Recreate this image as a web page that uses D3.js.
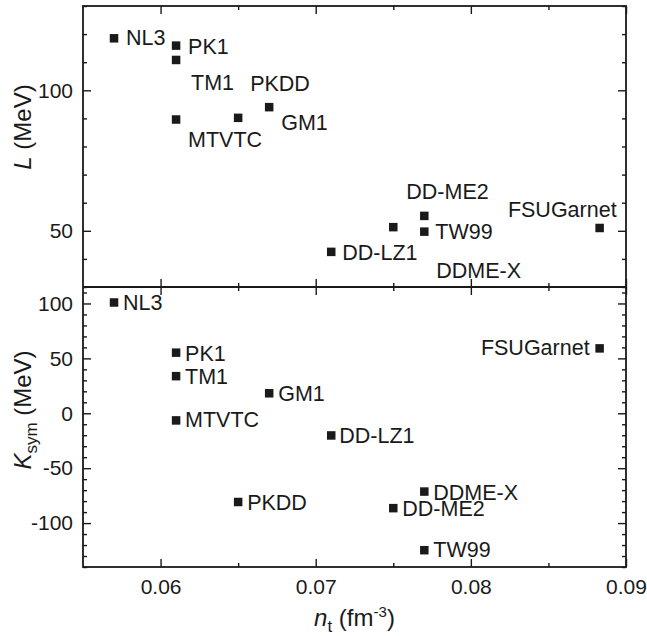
<!DOCTYPE html>
<html>
<head>
<meta charset="utf-8">
<script src="https://cdn.jsdelivr.net/npm/d3@7"></script>
<style>
  html, body { margin: 0; padding: 0; background: #fff; }
  svg { display: block; font-family: "Liberation Sans", Arial, Helvetica, sans-serif; }
</style>
</head>
<body>
<svg id="chart" width="647" height="636"></svg>
<script>
// ---- data ----
const models = ["NL3", "PK1", "TM1", "PKDD", "MTVTC", "GM1", "DD-LZ1", "DD-ME2", "TW99", "DDME-X", "FSUGarnet"];
const nt     = [0.057, 0.061, 0.061, 0.065, 0.061, 0.067, 0.071, 0.075, 0.077, 0.077, 0.0883];
const Lvals  = [118.5, 115.9, 110.8, 90.2, 89.6, 94.0, 42.5, 51.3, 55.3, 49.7, 51.0];
const Ksym   = [100.9, 55.2, 33.8, -80.8, -6.5, 18.2, -20.2, -86.4, -124.7, -71.3, 59.1];

const xMajorTicks = [0.06, 0.07, 0.08, 0.09];
const xMinorTicks = [0.065, 0.075, 0.085];
const xTickLabels = ["0.06", "0.07", "0.08", "0.09"];
const lMajorTicks = [50, 100];
const kMajorTicks = [-100, -50, 0, 50, 100];

// ---- label placement (pixel offsets from marker centre) ----
const labelPosL = {
  "NL3": [12, 7, "start"], "PK1": [12, 8, "start"], "TM1": [15, 30, "start"],
  "PKDD": [12, -27, "start"], "MTVTC": [12, 27, "start"], "GM1": [12, 23, "start"],
  "DD-LZ1": [11, 8, "start"], "DD-ME2": [13, -28, "start"], "TW99": [11, 23, "start"],
  "DDME-X": [12, 46, "start"], "FSUGarnet": [17, -11, "end"]
};
const labelPosK = {
  "NL3": [9, 8, "start"], "PK1": [9, 8, "start"], "TM1": [9, 8, "start"],
  "PKDD": [9, 8, "start"], "MTVTC": [9, 7, "start"], "GM1": [9, 8, "start"],
  "DD-LZ1": [8, 8, "start"], "DD-ME2": [9, 8, "start"], "TW99": [9, 7, "start"],
  "DDME-X": [9, 8, "start"], "FSUGarnet": [-10, 7, "end"]
};

// ---- layout ----
const pLeft = 83, pRight = 626, pTop = 6, pMid = 287, pBottom = 567;
const ink = "#1a1a1a";
const svg = d3.select("#chart");

const x = d3.scaleLinear().domain([0.055, 0.09]).range([pLeft, pRight]);
const yL = d3.scaleLinear().domain([30, 130]).range([pMid, pTop]);
const yK = d3.scaleLinear().domain([-140, 115]).range([pBottom, pMid]);

const lMinor = d3.range(30, 131, 10).filter(v => !lMajorTicks.includes(v));
const kMinor = d3.range(-140, 111, 10).filter(v => !kMajorTicks.includes(v));

function styleAxis(g) {
  g.select(".domain").remove();
  g.selectAll(".tick line").attr("stroke", ink).attr("stroke-width", 1.4);
  g.selectAll(".tick text").attr("fill", ink).style("font-size", "21px")
    .style("font-family", "'Liberation Sans', Arial, sans-serif");
}

function drawXAxes(yPos, dir, withLabels) {
  const mk = (vals, len) => {
    const ax = d3.axisBottom(x).tickValues(vals).tickSizeOuter(0).tickSizeInner(dir * len);
    if (withLabels) {
      ax.tickFormat(d => xTickLabels[xMajorTicks.indexOf(d)] || "").tickPadding(12);
    } else {
      ax.tickFormat("");
    }
    return ax;
  };
  svg.append("g").attr("transform", `translate(0,${yPos})`).call(mk(xMajorTicks, 8)).call(styleAxis);
  const gm = svg.append("g").attr("transform", `translate(0,${yPos})`).call(mk(xMinorTicks, 4)).call(styleAxis);
  gm.selectAll("text").remove();
}

function drawYAxes(scale, majors, minors) {
  const leftMaj = d3.axisLeft(scale).tickValues(majors).tickSizeInner(-8).tickSizeOuter(0).tickPadding(10).tickFormat(d => String(d));
  svg.append("g").attr("transform", `translate(${pLeft},0)`).call(leftMaj).call(styleAxis);
  const leftMin = d3.axisLeft(scale).tickValues(minors).tickSizeInner(-4).tickSizeOuter(0).tickFormat("");
  svg.append("g").attr("transform", `translate(${pLeft},0)`).call(leftMin).call(styleAxis);
  const rightMaj = d3.axisRight(scale).tickValues(majors).tickSizeInner(-8).tickSizeOuter(0).tickFormat("");
  svg.append("g").attr("transform", `translate(${pRight},0)`).call(rightMaj).call(styleAxis);
  const rightMin = d3.axisRight(scale).tickValues(minors).tickSizeInner(-4).tickSizeOuter(0).tickFormat("");
  svg.append("g").attr("transform", `translate(${pRight},0)`).call(rightMin).call(styleAxis);
}

drawXAxes(pTop, 1, false);
drawXAxes(pMid, -1, false);
drawXAxes(pMid, 1, false);
drawXAxes(pBottom, -1, true);
drawYAxes(yL, lMajorTicks, lMinor);
drawYAxes(yK, kMajorTicks, kMinor);

svg.append("rect").attr("x", pLeft).attr("y", pTop).attr("width", pRight - pLeft).attr("height", pBottom - pTop)
  .attr("fill", "none").attr("stroke", ink).attr("stroke-width", 1.8);
svg.append("line").attr("x1", pLeft).attr("x2", pRight).attr("y1", pMid).attr("y2", pMid)
  .attr("stroke", ink).attr("stroke-width", 1.8);

const pts = models.map((m, i) => ({ m, n: nt[i], L: Lvals[i], K: Ksym[i] }));
const ms = 8.5;

function drawPanel(yScale, key, pos) {
  const g = svg.append("g");
  g.selectAll("rect.pt").data(pts).join("rect")
    .attr("class", "pt")
    .attr("x", d => x(d.n) - ms / 2)
    .attr("y", d => yScale(d[key]) - ms / 2)
    .attr("width", ms).attr("height", ms)
    .attr("fill", ink);
  g.selectAll("text.lab").data(pts).join("text")
    .attr("class", "lab")
    .attr("x", d => x(d.n) + pos[d.m][0])
    .attr("y", d => yScale(d[key]) + pos[d.m][1])
    .attr("text-anchor", d => pos[d.m][2])
    .attr("fill", ink)
    .style("font-size", "21.5px")
    .text(d => d.m);
}
drawPanel(yL, "L", labelPosL);
drawPanel(yK, "K", labelPosK);

const tL = svg.append("text").attr("transform", "translate(31,127) rotate(-90)")
  .attr("text-anchor", "middle").attr("fill", ink).style("font-size", "24px");
tL.append("tspan").attr("font-style", "italic").text("L");
tL.append("tspan").text(" (MeV)");

const tK = svg.append("text").attr("transform", "translate(31,410) rotate(-90)")
  .attr("text-anchor", "middle").attr("fill", ink).style("font-size", "24px");
tK.append("tspan").attr("font-style", "italic").text("K");
tK.append("tspan").attr("dy", 6).style("font-size", "17px").text("sym");
tK.append("tspan").attr("dy", -6).text(" (MeV)");

const tX = svg.append("text").attr("x", (pLeft + pRight) / 2).attr("y", 626)
  .attr("text-anchor", "middle").attr("fill", ink).style("font-size", "24px");
tX.append("tspan").attr("font-style", "italic").text("n");
tX.append("tspan").attr("dy", 6).style("font-size", "17px").text("t");
tX.append("tspan").attr("dy", -6).text(" (fm");
tX.append("tspan").attr("dy", -9).style("font-size", "15px").text("-3");
tX.append("tspan").attr("dy", 9).text(")");
</script>
</body>
</html>
